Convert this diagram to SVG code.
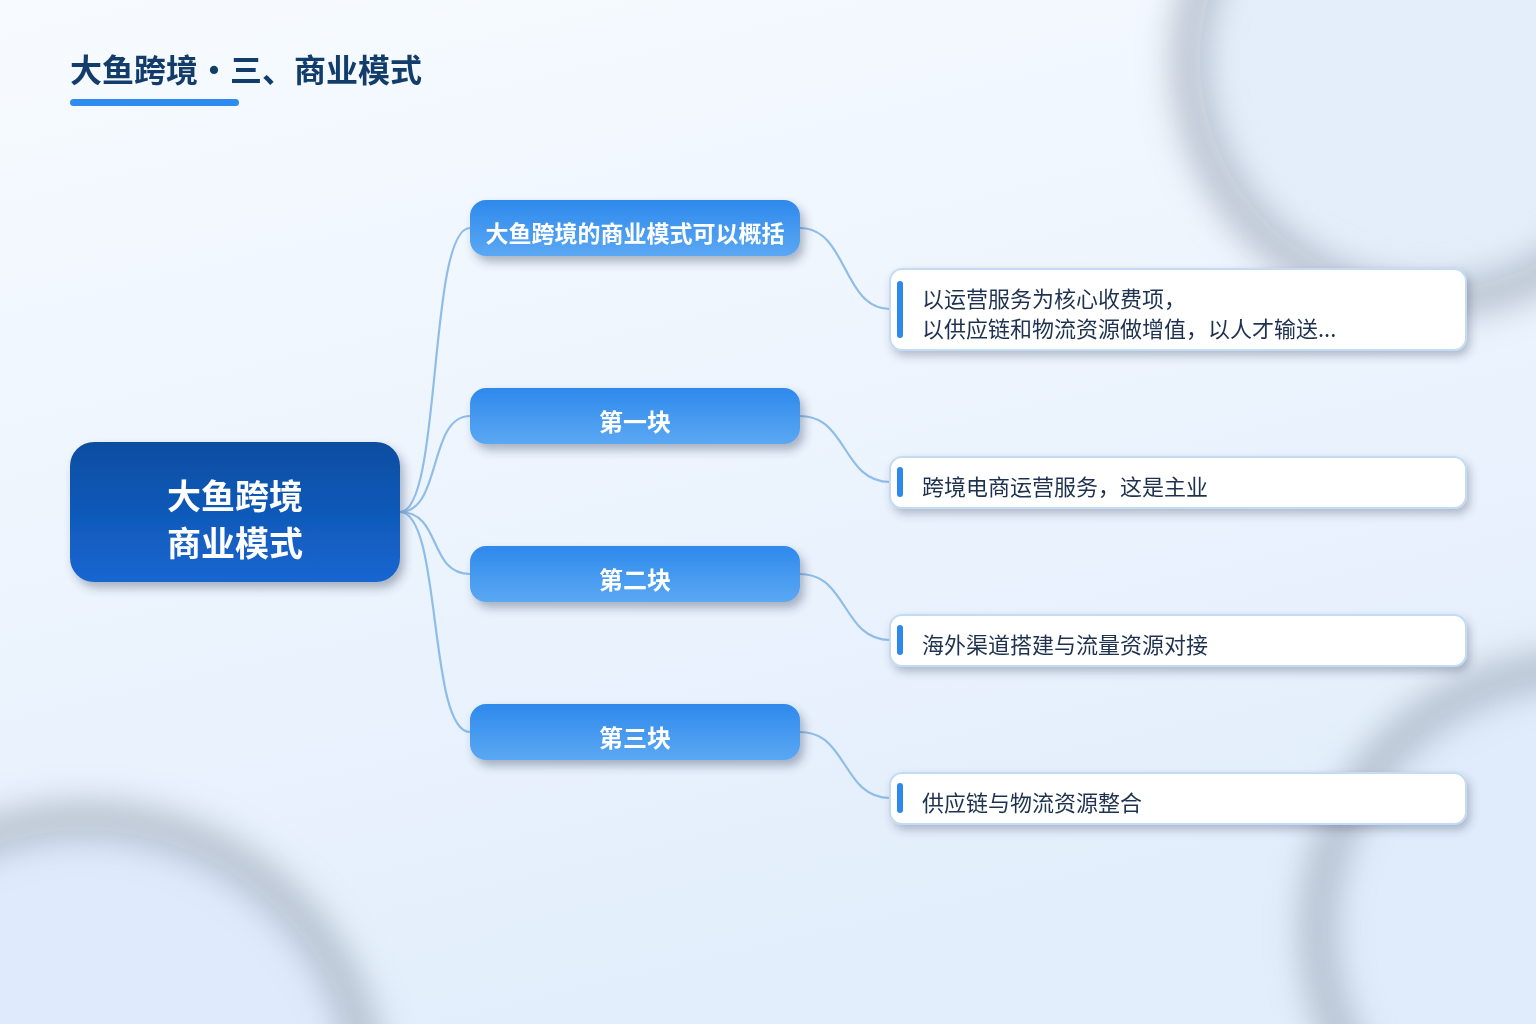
<svg xmlns="http://www.w3.org/2000/svg" width="1536" height="1024" viewBox="0 0 1536 1024">
<defs>
<linearGradient id="bg" x1="0" y1="0" x2="0.35" y2="1">
<stop offset="0" stop-color="#f7fbff"/>
<stop offset="1" stop-color="#e3eefc"/>
</linearGradient>
<linearGradient id="rootG" x1="0" y1="0" x2="0" y2="1">
<stop offset="0" stop-color="#0c4da0"/>
<stop offset="1" stop-color="#1566d2"/>
</linearGradient>
<linearGradient id="brG" x1="0" y1="0" x2="0" y2="1">
<stop offset="0" stop-color="#2e89ec"/>
<stop offset="1" stop-color="#5ba8f3"/>
</linearGradient>
<filter id="blur" x="-30%" y="-30%" width="160%" height="160%">
<feGaussianBlur stdDeviation="16"/>
</filter>
<filter id="sh" x="-10%" y="-20%" width="125%" height="160%">
<feDropShadow dx="4" dy="6" stdDeviation="5" flood-color="#3a4a62" flood-opacity="0.38"/>
</filter>
<filter id="shl" x="-5%" y="-20%" width="112%" height="170%">
<feDropShadow dx="3" dy="5" stdDeviation="4" flood-color="#3a4a62" flood-opacity="0.32"/>
</filter>
</defs>
<style>
.title{font-family:"Noto Sans CJK SC","Noto Sans",sans-serif;font-weight:700;font-size:32px;fill:#123d6a}
.root{font-family:"Noto Sans CJK SC","Noto Sans",sans-serif;font-weight:700;font-size:34px;fill:#ffffff}
.br{font-family:"Noto Sans CJK SC","Noto Sans",sans-serif;font-weight:700;font-size:24px;fill:#ffffff}
.br1{font-size:23px}
.leaf{font-family:"Noto Sans CJK SC","Noto Sans",sans-serif;font-weight:400;font-size:22px;fill:#1e3250}
.leafbox{fill:#ffffff;stroke:#c3dbf3;stroke-width:2}
.bar{fill:#2f88ee}
.conn{fill:none;stroke:#90bde8;stroke-width:2.2}
.ring{fill:none;stroke:#a4aebd;stroke-width:38;opacity:0.7}
</style>
<rect x="0" y="0" width="1536" height="1024" fill="url(#bg)"/>
<g id="decor">
<circle cx="1430" cy="60" r="230" fill="#e4eefb"/>
<circle cx="85" cy="1105" r="275" fill="#dfebfc"/>
<circle cx="1580" cy="930" r="255" fill="#e0ecfb"/>
<g filter="url(#blur)">
<circle class="ring" cx="1430" cy="60" r="240"/>
<circle class="ring" cx="85" cy="1105" r="285"/>
<circle class="ring" cx="1580" cy="930" r="262"/>
</g>
</g>
<g id="title">
<text class="title" x="70" y="82">大鱼跨境・三、商业模式</text>
<rect x="70" y="99" width="169" height="7" rx="3.5" fill="#2e8bef"/>
</g>
<g id="connectors">
<path class="conn" d="M400,512 C442,512 428,228 470,228"/>
<path class="conn" d="M400,512 C442,512 428,416 470,416"/>
<path class="conn" d="M400,512 C442,512 428,574 470,574"/>
<path class="conn" d="M400,512 C442,512 428,732 470,732"/>
<path class="conn" d="M800,228 C848,228 842,309 890,309"/>
<path class="conn" d="M800,416 C848,416 842,482 890,482"/>
<path class="conn" d="M800,574 C848,574 842,640 890,640"/>
<path class="conn" d="M800,732 C848,732 842,798 890,798"/>
</g>
<g id="root">
<rect x="70" y="442" width="330" height="140" rx="24" fill="url(#rootG)" filter="url(#sh)"/>
<text class="root" x="235" y="509" text-anchor="middle">大鱼跨境</text>
<text class="root" x="235" y="556" text-anchor="middle">商业模式</text>
</g>
<g id="branch1">
<rect x="470" y="200" width="330" height="56" rx="16" fill="url(#brG)" filter="url(#sh)"/>
<text class="br br1" x="635" y="242" text-anchor="middle">大鱼跨境的商业模式可以概括</text>
</g>
<g id="branch2">
<rect x="470" y="388" width="330" height="56" rx="16" fill="url(#brG)" filter="url(#sh)"/>
<text class="br" x="635" y="431" text-anchor="middle">第一块</text>
</g>
<g id="branch3">
<rect x="470" y="546" width="330" height="56" rx="16" fill="url(#brG)" filter="url(#sh)"/>
<text class="br" x="635" y="589" text-anchor="middle">第二块</text>
</g>
<g id="branch4">
<rect x="470" y="704" width="330" height="56" rx="16" fill="url(#brG)" filter="url(#sh)"/>
<text class="br" x="635" y="747" text-anchor="middle">第三块</text>
</g>
<g id="leaf1">
<rect class="leafbox" x="890" y="269" width="576" height="81" rx="12" filter="url(#shl)"/>
<rect class="bar" x="897" y="281" width="6" height="57" rx="3"/>
<text class="leaf" x="922" y="307">以运营服务为核心收费项，</text>
<text class="leaf" x="922" y="337">以供应链和物流资源做增值，以人才输送...</text>
</g>
<g id="leaf2">
<rect class="leafbox" x="890" y="457" width="576" height="51" rx="12" filter="url(#shl)"/>
<rect class="bar" x="897" y="467" width="6" height="30" rx="3"/>
<text class="leaf" x="922" y="495">跨境电商运营服务，这是主业</text>
</g>
<g id="leaf3">
<rect class="leafbox" x="890" y="615" width="576" height="51" rx="12" filter="url(#shl)"/>
<rect class="bar" x="897" y="625" width="6" height="30" rx="3"/>
<text class="leaf" x="922" y="653">海外渠道搭建与流量资源对接</text>
</g>
<g id="leaf4">
<rect class="leafbox" x="890" y="773" width="576" height="51" rx="12" filter="url(#shl)"/>
<rect class="bar" x="897" y="783" width="6" height="30" rx="3"/>
<text class="leaf" x="922" y="811">供应链与物流资源整合</text>
</g>
</svg>
